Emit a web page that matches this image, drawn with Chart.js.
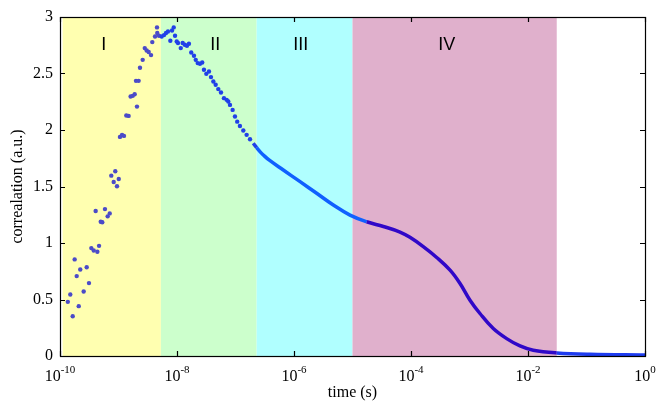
<!DOCTYPE html>
<html>
<head>
<meta charset="utf-8">
<script src="https://cdn.jsdelivr.net/npm/chart.js@4/dist/chart.umd.min.js"></script>
<style>
    html, body { margin: 0; padding: 0; background: #ffffff; }
    canvas { display: block; }
</style>
</head>
<body>
<canvas id="corrChart" width="657" height="404"></canvas>
<script>
// sparse early points (time in s, correlation in a.u.)
const sparseTimes = [
    1.36e-10, 1.50e-10, 1.65e-10, 1.78e-10, 1.93e-10, 2.09e-10, 2.22e-10, 2.54e-10, 2.86e-10, 3.13e-10,
    3.43e-10, 3.77e-10, 4.07e-10, 4.35e-10, 4.65e-10, 4.97e-10, 5.28e-10, 5.87e-10, 6.53e-10, 7.08e-10,
    7.53e-10, 8.28e-10, 8.81e-10, 9.42e-10, 1.01e-9, 1.06e-9, 1.15e-9, 1.24e-9, 1.36e-9, 1.49e-9,
    1.61e-9, 1.75e-9, 1.89e-9, 2.07e-9, 1.99e-9, 2.21e-9, 2.33e-9, 2.59e-9, 2.81e-9, 3.03e-9,
    3.28e-9, 3.60e-9, 3.78e-9, 4.21e-9, 4.55e-9, 4.60e-9, 4.92e-9, 5.47e-9, 6.00e-9, 6.49e-9,
    7.01e-9, 7.69e-9, 8.22e-9, 8.79e-9, 9.25e-9, 9.89e-9, 1.04e-8, 1.16e-8, 1.25e-8, 1.36e-8,
    1.48e-8, 1.60e-8, 1.75e-8, 1.95e-8, 2.09e-8, 2.26e-8, 2.47e-8, 2.70e-8, 2.89e-8, 3.17e-8,
    3.52e-8, 3.81e-8, 4.18e-8, 4.58e-8, 5.08e-8, 5.65e-8, 6.35e-8, 7.06e-8, 7.53e-8, 8.05e-8,
    8.93e-8, 9.79e-8, 1.07e-7, 1.19e-7, 1.36e-7, 1.55e-7, 1.77e-7
];
const sparseValues = [
    0.479, 0.544, 0.352, 0.855, 0.707, 0.441, 0.766, 0.571, 0.786, 0.645,
    0.955, 0.934, 1.283, 0.922, 0.975, 1.188, 1.183, 1.300, 1.236, 1.262,
    1.596, 1.540, 1.635, 1.502, 1.566, 1.939, 1.957, 1.948, 2.128, 2.125,
    2.296, 2.302, 2.317, 2.207, 2.435, 2.435, 2.551, 2.621, 2.725, 2.704,
    2.690, 2.663, 2.778, 2.828, 2.908, 2.858, 2.834, 2.828, 2.840, 2.858,
    2.872, 2.790, 2.881, 2.908, 2.834, 2.784, 2.770, 2.725, 2.770, 2.755,
    2.746, 2.763, 2.686, 2.657, 2.621, 2.592, 2.586, 2.597, 2.533, 2.497,
    2.518, 2.468, 2.429, 2.400, 2.362, 2.332, 2.282, 2.267, 2.252, 2.222,
    2.178, 2.119, 2.074, 2.036, 1.995, 1.957, 1.918
];

// dense part of the curve
const curveTimes = [
    2.01e-7, 2.30e-7, 2.62e-7, 2.99e-7, 3.74e-7, 6.56e-7, 1.27e-6, 2.44e-6, 4.70e-6, 9.06e-6,
    1.75e-5, 3.37e-5, 6.49e-5, 9.6e-5, 1.62e-4, 2.75e-4, 4.65e-4, 6.89e-4, 1.02e-3, 1.51e-3,
    2.55e-3, 4.32e-3, 7.30e-3, 1.23e-2, 3.10e-2, 1.15e-1, 1
];
const curveValues = [
    1.883, 1.844, 1.809, 1.779, 1.735, 1.646, 1.543, 1.440, 1.336, 1.247,
    1.188, 1.146, 1.097, 1.050, 0.968, 0.872, 0.760, 0.642, 0.494, 0.376,
    0.243, 0.154, 0.089, 0.051, 0.027, 0.015, 0.009
];

// shaded regimes
const regionNames = ["I", "II", "III", "IV"];
const regionStarts = [1.11e-10, 5.3e-9, 2.3e-7, 1.0e-5];
const regionEnds = [5.3e-9, 2.3e-7, 1.0e-5, 3.1e-2];
const regionLabelTimes = [5.6e-10, 4.5e-8, 1.3e-6, 4.1e-4];
const regionLabelLevel = 2.75;

// axis ticks
const xTickValues = [1e-10, 1e-8, 1e-6, 1e-4, 1e-2, 1];
const xTickExponents = ["-10", "-8", "-6", "-4", "-2", "0"];
const yTickValues = [0, 0.5, 1, 1.5, 2, 2.5, 3];

const regionFills = ["#ffffb0", "#ccffcc", "#b0ffff", "#e0b0cc"];
const regionDotColors = ["#4b4bc8", "#2040e8", "#1060ff", "#3008c8"];
const outsideDotColor = "#1e3cf0";
const serif = "'Liberation Serif', 'Times New Roman', serif";

function colorForTime(t) {
    for (let i = 0; i < regionEnds.length; i++) {
        if (t < regionEnds[i]) return regionDotColors[i];
    }
    return outsideDotColor;
}

const regionPlugin = {
    id: "regions",
    beforeDatasetsDraw(chart) {
        const { ctx, chartArea, scales } = chart;
        ctx.save();
        regionStarts.forEach((start, i) => {
            const x0 = scales.x.getPixelForValue(start);
            const x1 = scales.x.getPixelForValue(regionEnds[i]);
            ctx.fillStyle = regionFills[i];
            ctx.fillRect(x0, chartArea.top, x1 - x0, chartArea.bottom - chartArea.top);
        });
        ctx.fillStyle = "#000000";
        ctx.font = "18px 'Liberation Sans', Arial, sans-serif";
        ctx.textAlign = "center";
        ctx.textBaseline = "middle";
        regionNames.forEach((name, i) => {
            ctx.fillText(name, scales.x.getPixelForValue(regionLabelTimes[i]), scales.y.getPixelForValue(regionLabelLevel));
        });
        ctx.restore();
    }
};

const framePlugin = {
    id: "frame",
    afterDatasetsDraw(chart) {
        const { ctx, chartArea, scales } = chart;
        const { left, right, top, bottom } = chartArea;
        const tick = 5;
        ctx.save();
        ctx.strokeStyle = "#000000";
        ctx.lineWidth = 1.2;
        ctx.beginPath();
        xTickValues.forEach(v => {
            const x = Math.round(scales.x.getPixelForValue(v)) + 0.5;
            ctx.moveTo(x, bottom); ctx.lineTo(x, bottom - tick);
            ctx.moveTo(x, top); ctx.lineTo(x, top + tick);
        });
        yTickValues.forEach(v => {
            const y = Math.round(scales.y.getPixelForValue(v)) + 0.5;
            ctx.moveTo(left, y); ctx.lineTo(left + tick, y);
            ctx.moveTo(right, y); ctx.lineTo(right - tick, y);
        });
        ctx.stroke();
        ctx.strokeRect(Math.round(left) + 0.5, Math.round(top) + 0.5, Math.round(right - left), Math.round(bottom - top));

        // x tick labels as 10 with a raised exponent
        ctx.fillStyle = "#000000";
        ctx.textBaseline = "alphabetic";
        ctx.textAlign = "left";
        xTickValues.forEach((v, i) => {
            const x = scales.x.getPixelForValue(v);
            ctx.font = "16px " + serif;
            const baseW = ctx.measureText("10").width;
            ctx.font = "11px " + serif;
            const expW = ctx.measureText(xTickExponents[i]).width;
            const startX = x - (baseW + expW) / 2;
            ctx.font = "16px " + serif;
            ctx.fillText("10", startX, bottom + 25);
            ctx.font = "11px " + serif;
            ctx.fillText(xTickExponents[i], startX + baseW, bottom + 17);
        });
        ctx.restore();
    }
};

new Chart(document.getElementById("corrChart"), {
    data: {
        datasets: [
            {
                type: "line",
                data: curveTimes.map((t, i) => ({ x: t, y: curveValues[i] })),
                borderWidth: 3.5,
                pointRadius: 0,
                tension: 0.4,
                segment: {
                    borderColor: ctx => colorForTime(ctx.p0.parsed.x)
                },
                order: 2
            },
            {
                type: "scatter",
                data: sparseTimes.map((t, i) => ({ x: t, y: sparseValues[i] })),
                pointRadius: 2.2,
                pointBorderWidth: 0,
                backgroundColor: ctx => (ctx.raw ? colorForTime(ctx.raw.x) : regionDotColors[0]),
                order: 1
            }
        ]
    },
    options: {
        responsive: false,
        animation: false,
        devicePixelRatio: 1,
        layout: { padding: { top: 17, right: 12, left: 0, bottom: 0 } },
        plugins: {
            legend: { display: false },
            tooltip: { enabled: false }
        },
        scales: {
            x: {
                type: "logarithmic",
                min: 1e-10,
                max: 1,
                grid: { display: false, drawTicks: false },
                border: { display: false },
                ticks: { display: false },
                title: {
                    display: true,
                    text: "time (s)",
                    color: "#000000",
                    font: { family: serif, size: 16 },
                    padding: { top: 0, bottom: 2 }
                },
                afterFit(scale) { scale.height = 48; }
            },
            y: {
                min: 0,
                max: 3,
                grid: { display: false, drawTicks: false },
                border: { display: false },
                afterBuildTicks(scale) {
                    scale.ticks = yTickValues.map(v => ({ value: v }));
                },
                ticks: {
                    color: "#000000",
                    font: { family: serif, size: 16 },
                    padding: 7,
                    callback: v => String(v)
                },
                title: {
                    display: true,
                    text: "correalation (a.u.)",
                    color: "#000000",
                    font: { family: serif, size: 16 },
                    padding: { top: 8, bottom: 0 }
                },
                afterFit(scale) { scale.width = 60; }
            }
        }
    },
    plugins: [regionPlugin, framePlugin]
});
</script>
</body>
</html>
